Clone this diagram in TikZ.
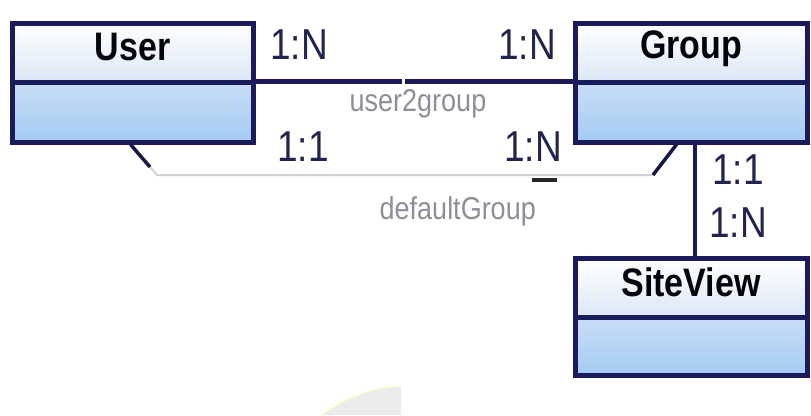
\documentclass[tikz,border=0pt]{standalone}
\usepackage{fontspec}
\setmainfont{Liberation Sans}
\usetikzlibrary{calc}
\definecolor{navy}{HTML}{1B1B5C}
\definecolor{headlow}{HTML}{DCE7F5}
\definecolor{bodytop}{HTML}{C9DEF6}
\definecolor{bodylow}{HTML}{A4CBF2}
\definecolor{labcol}{HTML}{23234F}
\definecolor{rolecol}{HTML}{8E8E96}
\definecolor{faintline}{HTML}{D2D2D6}
\tikzset{
  umlhead/.style={draw=navy, line width=5pt, top color=white, bottom color=headlow, inner sep=0pt},
  umlbody/.style={draw=navy, line width=5pt, top color=bodytop, bottom color=bodylow, inner sep=0pt},
  umltitle/.style={font=\fontsize{34}{34}\selectfont\bfseries, text=black!85!navy, inner sep=0pt},
  mult/.style={font=\fontsize{37}{37}\selectfont, text=labcol, inner sep=0pt},
  role/.style={font=\fontsize{27}{27}\selectfont, text=rolecol, inner sep=0pt},
  assoc/.style={draw=navy, line width=4.5pt},
  darkseg/.style={draw=navy!80!black, line width=3.5pt},
  thinline/.style={draw=faintline, line width=2pt}
}
\newcommand{\vstretch}[1]{\scalebox{1}[1.17]{#1}}
\begin{document}
\begin{tikzpicture}[x=1pt, y=-1pt]
\useasboundingbox (0,0) rectangle (811,415);
% watermark arc
\fill[gray!15] (322,415) .. controls (346,397) and (372,388) .. (401,386) -- (401,415) -- cycle;
\draw[yellow!25, line width=1pt] (322,415) .. controls (346,397) and (372,388) .. (401,386);

% classes
\node[umlhead, minimum width=241pt, minimum height=59pt] (userhead) at (132.5,52.5) {};
\node[umlbody, minimum width=241pt, minimum height=60pt] (userbody) at (132.5,112) {};
\node[umlhead, minimum width=232pt, minimum height=59pt] (grouphead) at (691,52.5) {};
\node[umlbody, minimum width=232pt, minimum height=60pt] (groupbody) at (691,112) {};
\node[umlhead, minimum width=232pt, minimum height=59pt] (svhead) at (691,287.5) {};
\node[umlbody, minimum width=232pt, minimum height=58pt] (svbody) at (691,346) {};

\node[umltitle] (usertitle) at ([yshift=5pt]userhead.center) {\vstretch{User}};
\node[umltitle] (grouptitle) at ([yshift=4pt]grouphead.center) {\vstretch{Group}};
\node[umltitle] (svtitle) at ([yshift=5pt]svhead.center) {\vstretch{SiteView}};

% user2group association
\draw[assoc] ([yshift=3pt]userhead.south east) -- ([yshift=3pt]grouphead.south west);

% defaultGroup association
\coordinate (ua) at ($(userbody.south west)+(121,0)$);
\coordinate (ub) at (150,167);
\coordinate (uc) at (157,175);
\coordinate (gc) at (653,175);
\coordinate (ga) at ($(groupbody.south west)+(104,0)$);
\draw[thinline] (ub) -- (uc) -- (gc);
\draw[darkseg] (ua) -- (ub);
\draw[darkseg] (ga) -- (gc);
\coordinate (dashl) at (532,180);
\coordinate (dashr) at (557,180);
\draw[draw=black!85, line width=4pt] (dashl) -- (dashr);

% group - siteview
\draw[assoc] ([xshift=4pt]groupbody.south) -- ([xshift=4pt]svhead.north);

% multiplicities
\node[mult] (m1) at (299,45) {\vstretch{1:N}};
\node[mult] (m2) at (527,45) {\vstretch{1:N}};
\node[mult] (m3) at (303,147) {\vstretch{1:1}};
\node[mult] (m4) at (533,147) {\vstretch{1:N}};
\node[mult] (m5) at (738,170) {\vstretch{1:1}};
\node[mult] (m6) at (738,223) {\vstretch{1:N}};

% role names
\node[role] (r1) at (418,104) {\vstretch{user2group}};
\node[role, anchor=east] (r2) at (536,211) {\vstretch{defaultGroup}};

% seam in the top line
\fill[white] (401.5,70) rectangle (404.5,88);
\end{tikzpicture}
\end{document}
